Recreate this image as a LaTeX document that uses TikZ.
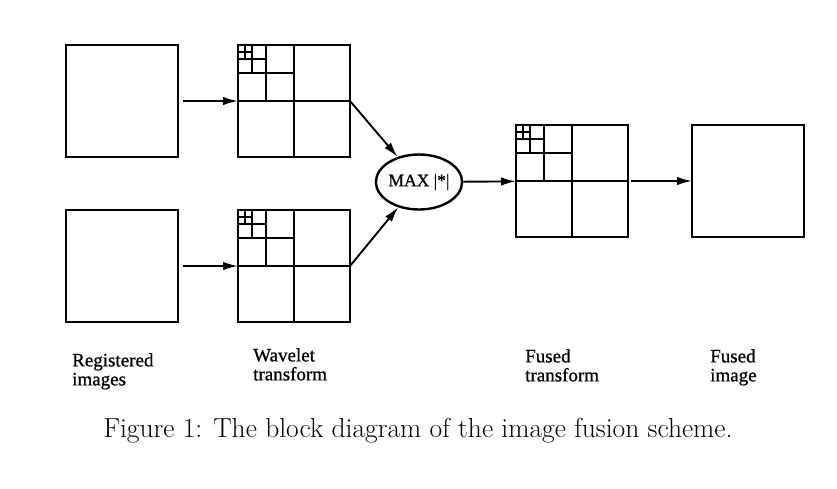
\documentclass[tikz,border=0pt]{standalone}
\usepackage{fontspec}
\newfontfamily\labelfont[FakeBold=0.8]{Liberation Serif}
\usetikzlibrary{positioning,arrows.meta,shapes.geometric}
\tikzset{
  img-box/.style={draw,line width=2.8pt,minimum size=112pt,inner sep=0pt,outer sep=0pt},
  max-node/.style={draw,ellipse,line width=2.4pt,minimum width=85pt,minimum height=55pt,
    inner sep=0pt,font=\labelfont\fontsize{17.5}{17.5}\selectfont},
  sub-line/.style={line width=2.1pt},
  arrow/.style={-{Latex[length=15pt,width=8.5pt]},line width=1.9pt},
  box-label/.style={anchor=north west,align=left,inner sep=0pt,
    font=\labelfont\fontsize{19}{19}\selectfont},
}
% dyadic subdivision of a wavelet square, four levels
\newcommand{\dyadicgrid}[1]{%
  \begin{scope}[shift={(#1.north west)}]
    \foreach \f in {0.5,0.25,0.125,0.0625}
      \draw[sub-line] (\f*112,0) -- (\f*112,2*\f*112) (0,\f*112) -- (2*\f*112,\f*112);
  \end{scope}}

\begin{document}
\begin{tikzpicture}[x=1pt,y=-1pt]
  \useasboundingbox (0,0) rectangle (837,488);
  \node[img-box] (reg1) at (122,101) {};
  \node[img-box] (reg2) at (122,266) {};
  \node[img-box,right=60pt of reg1] (wav1) {};
  \node[img-box,right=60pt of reg2] (wav2) {};
  \node[max-node] (max) at (419,182) {MAX |*|};
  \node[img-box] (fus) at (572,181) {};
  \node[img-box,right=64pt of fus] (out) {};
  \dyadicgrid{wav1}
  \dyadicgrid{wav2}
  \dyadicgrid{fus}
  \draw[arrow,shorten <=5pt] (reg1) -- (wav1);
  \draw[arrow,shorten <=5pt] (reg2) -- (wav2);
  \draw[arrow] (wav1.east) -- (max);
  \draw[arrow] (wav2.east) -- (max);
  \draw[arrow] (max) -- (fus);
  \draw[arrow,shorten <=3pt] (fus) -- (out);
  % labels under the columns
  \node[box-label] (lreg) at (72,353) {Registered\\images};
  \node[box-label] (lwav) at (253,348) {Wavelet\\transform};
  \node[box-label] (lfus) at (525,349) {Fused\\transform};
  \node[box-label] (lout) at (710,349) {Fused\\image};
  \node[font=\fontsize{27.5}{27.5}\selectfont] (cap) at (418,431)
    {Figure 1: The block diagram of the image fusion scheme.};
\end{tikzpicture}
\end{document}
